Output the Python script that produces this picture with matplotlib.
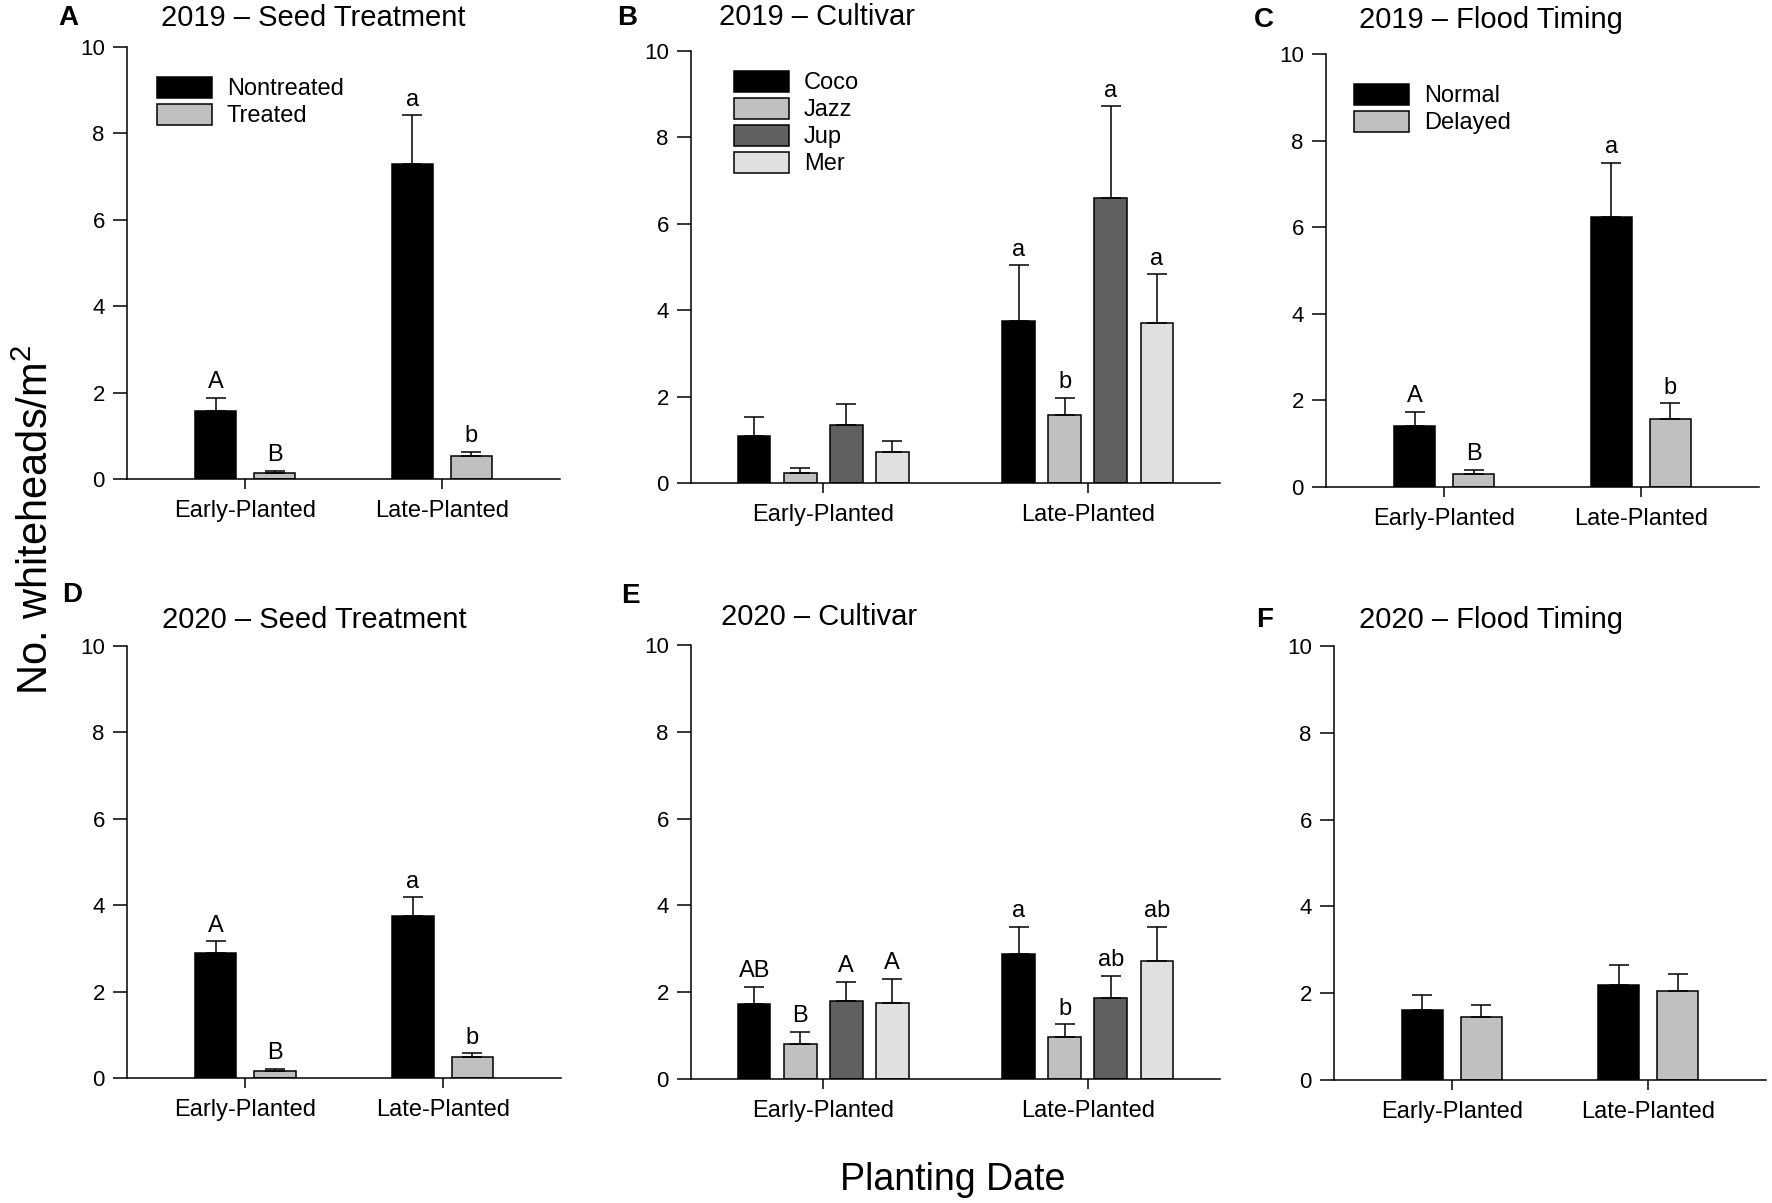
import numpy as np
import matplotlib
matplotlib.use('Agg')
import matplotlib.pyplot as plt

plt.rcParams['font.family'] = ['Liberation Sans', 'DejaVu Sans']
plt.rcParams['mathtext.fontset'] = 'custom'
plt.rcParams['mathtext.rm'] = 'Liberation Sans'
plt.rcParams['mathtext.it'] = 'Liberation Sans:italic'

W, H = 1772, 1203

# ---- data ----
groups = ['Early-Planted', 'Late-Planted']

# 2019 seed treatment
seed19_names = ['Nontreated', 'Treated']
seed19_mean = [[1.58, 7.29], [0.15, 0.54]]
seed19_se = [[0.30, 1.13], [0.035, 0.08]]
seed19_let = [['A', 'a'], ['B', 'b']]

# 2019 cultivar
cult_names = ['Coco', 'Jazz', 'Jup', 'Mer']
cult19_mean = [[1.09, 3.75], [0.23, 1.57], [1.35, 6.59], [0.71, 3.70]]
cult19_se = [[0.44, 1.29], [0.12, 0.40], [0.47, 2.13], [0.26, 1.13]]
cult19_let = [['', 'a'], ['', 'b'], ['', 'a'], ['', 'a']]

# 2019 flood timing
flood_names = ['Normal', 'Delayed']
flood19_mean = [[1.41, 6.23], [0.30, 1.58]]
flood19_se = [[0.32, 1.26], [0.10, 0.35]]
flood19_let = [['A', 'a'], ['B', 'b']]

# 2020 seed treatment
seed20_mean = [[2.89, 3.74], [0.16, 0.48]]
seed20_se = [[0.27, 0.44], [0.05, 0.09]]
seed20_let = [['A', 'a'], ['B', 'b']]

# 2020 cultivar
cult20_mean = [[1.72, 2.89], [0.81, 0.97], [1.80, 1.87], [1.75, 2.72]]
cult20_se = [[0.41, 0.61], [0.28, 0.29], [0.44, 0.51], [0.55, 0.78]]
cult20_let = [['AB', 'a'], ['B', 'b'], ['A', 'ab'], ['A', 'ab']]

# 2020 flood timing
flood20_mean = [[1.62, 2.20], [1.46, 2.05]]
flood20_se = [[0.35, 0.45], [0.26, 0.39]]
flood20_let = [['', ''], ['', '']]

two_colors = ['#000000', '#c0c0c0']
four_colors = ['#000000', '#c0c0c0', '#606060', '#e0e0e0']


def fig_xy(x, y):
    return x / W, 1 - y / H


def make_ax(fig, x0, x1, ytop, yzero):
    return fig.add_axes([x0 / W, 1 - yzero / H, (x1 - x0) / W, (yzero - ytop) / H])


def panel(ax, means, ses, letters, names, colors, legend_px=None):
    n = len(means)
    x = np.arange(len(groups))
    if n == 2:
        width, step = 0.21, 0.30
        ax.set_xlim(-0.6, 1.6)
    else:
        width, step = 0.123, 0.174
        ax.set_xlim(-0.5, 1.5)
    offsets = (np.arange(n) - (n - 1) / 2.0) * step
    for i in range(n):
        xs = x + offsets[i]
        ax.bar(xs, means[i], width, color=colors[i], edgecolor='black',
               linewidth=1.1, label=names[i], zorder=2)
        ax.errorbar(xs, means[i], yerr=[np.zeros(len(groups)), ses[i]], fmt='none',
                    ecolor='black', elinewidth=1.1, capsize=7.2, capthick=1.1, zorder=3)
        for j in range(len(groups)):
            if letters[i][j]:
                ax.annotate(letters[i][j], xy=(xs[j], means[i][j] + ses[i][j]),
                            xytext=(0, 7), textcoords='offset points',
                            ha='center', va='baseline', fontsize=17)
    ax.set_ylim(0, 10)
    ax.set_yticks([0, 2, 4, 6, 8, 10])
    ax.set_xticks(x)
    ax.set_xticklabels(groups, fontsize=17)
    for s in ['top', 'right']:
        ax.spines[s].set_visible(False)
    for s in ['left', 'bottom']:
        ax.spines[s].set_linewidth(1.1)
    ax.tick_params(axis='y', direction='out', length=10, width=1.1, pad=6, labelsize=16)
    ax.tick_params(axis='x', direction='out', length=7, width=1.1, pad=8)
    if legend_px is not None:
        ax.legend(loc='upper left', bbox_to_anchor=fig_xy(*legend_px),
                  bbox_transform=ax.figure.transFigure, frameon=False, fontsize=17,
                  borderpad=0, borderaxespad=0, handlelength=2.35, handleheight=0.97,
                  labelspacing=0.15, handletextpad=0.6)


fig = plt.figure(figsize=(W / 100, H / 100), dpi=100)

axA = make_ax(fig, 127, 560, 47, 479)
axB = make_ax(fig, 691, 1220, 51, 483)
axC = make_ax(fig, 1326, 1759, 54, 487)
axD = make_ax(fig, 127, 561, 646, 1078)
axE = make_ax(fig, 691, 1220, 645, 1079)
axF = make_ax(fig, 1334, 1766, 646, 1080)

panel(axA, seed19_mean, seed19_se, seed19_let, seed19_names, two_colors, (157, 77))
panel(axB, cult19_mean, cult19_se, cult19_let, cult_names, four_colors, (734, 71))
panel(axC, flood19_mean, flood19_se, flood19_let, flood_names, two_colors, (1354, 84))
panel(axD, seed20_mean, seed20_se, seed20_let, seed19_names, two_colors)
panel(axE, cult20_mean, cult20_se, cult20_let, cult_names, four_colors)
panel(axF, flood20_mean, flood20_se, flood20_let, flood_names, two_colors)

titles = [('A', 68, 18, '2019 – Seed Treatment', 313, 18),
          ('B', 627, 18, '2019 – Cultivar', 817, 17),
          ('C', 1264, 20, '2019 – Flood Timing', 1491, 20),
          ('D', 72, 595, '2020 – Seed Treatment', 314, 620),
          ('E', 630, 596, '2020 – Cultivar', 819, 617),
          ('F', 1265, 620, '2020 – Flood Timing', 1491, 620)]
for let, lx, ly, t, tx, ty in titles:
    fig.text(*fig_xy(lx, ly), let, fontsize=20, fontweight='bold', ha='center', va='center')
    fig.text(*fig_xy(tx, ty), t, fontsize=21, ha='center', va='center')

fig.text(*fig_xy(37, 520), r'No. whiteheads/m$^{\mathrm{2}}$', fontsize=30,
         rotation=90, ha='center', va='center')
fig.text(*fig_xy(953, 1190), 'Planting Date', fontsize=27, ha='center', va='baseline')

plt.savefig('out.png', dpi=100)
plt.close()
